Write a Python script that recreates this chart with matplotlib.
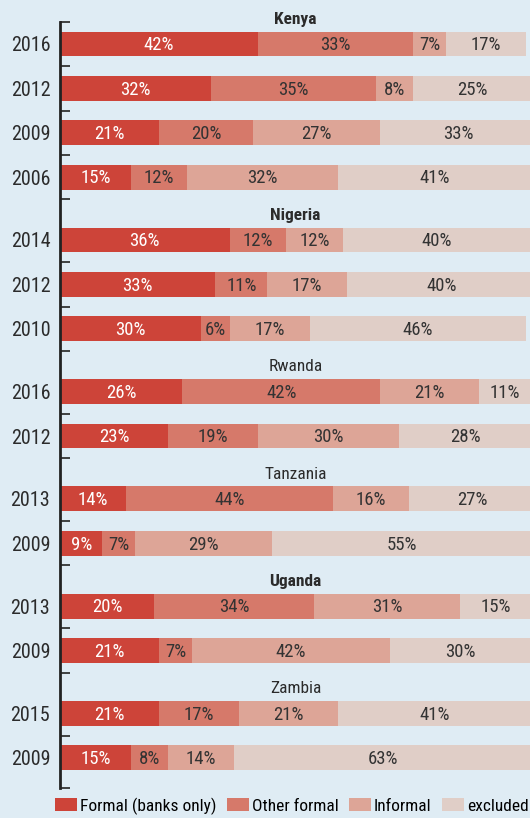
import numpy as np
import matplotlib
matplotlib.use("Agg")
import matplotlib.pyplot as plt
from matplotlib.patches import Patch
from matplotlib import font_manager

# pick a condensed sans if one is around, else plain Roboto
available = {f.name for f in font_manager.fontManager.ttflist}
candidates = ["Roboto Condensed", "Liberation Sans Narrow",
              "Fira Sans Condensed", "Roboto"]
font = next((c for c in candidates if c in available), "DejaVu Sans")
plt.rcParams['font.family'] = [font, 'DejaVu Sans']

countries = ["Kenya", "Nigeria", "Rwanda", "Tanzania", "Uganda", "Zambia"]
bold_titles = ["Kenya", "Nigeria", "Uganda"]
years = [
    ["2016", "2012", "2009", "2006"],
    ["2014", "2012", "2010"],
    ["2016", "2012"],
    ["2013", "2009"],
    ["2013", "2009"],
    ["2015", "2009"],
]

formal = [42, 32, 21, 15, 36, 33, 30, 26, 23, 14, 9, 20, 21, 21, 15]
other_formal = [33, 35, 20, 12, 12, 11, 6, 42, 19, 44, 7, 34, 7, 17, 8]
informal = [7, 8, 27, 32, 12, 17, 17, 21, 30, 16, 29, 31, 42, 21, 14]
excluded = [17, 25, 33, 41, 40, 40, 46, 11, 28, 27, 55, 15, 30, 41, 63]

series = [formal, other_formal, informal, excluded]
labels = ["Formal (banks only)", "Other formal", "Informal", "excluded"]
colors = ["#CD4439", "#D6796A", "#DDA597", "#E0CEC7"]
bg = "#DFECF4"

# y positions: one unit per row, bigger gap between countries (room for title)
group_gap = 1.416
positions = []
title_pos = []
y = 0.0
for gi, yrs in enumerate(years):
    if gi > 0:
        y += group_gap - 1
    title_pos.append(y - 0.56)
    for _ in yrs:
        positions.append(y)
        y += 1
positions = np.array(positions)
all_years = [yr for yrs in years for yr in yrs]

fig = plt.figure(figsize=(5.3, 8.18), dpi=100)
fig.patch.set_facecolor(bg)
ax = fig.add_axes([60 / 530, 30 / 818, 471 / 530, 788 / 818])
ax.set_facecolor(bg)

left = np.zeros(len(positions))
for si, (vals, col) in enumerate(zip(series, colors)):
    vals = np.array(vals)
    ax.barh(positions, vals, left=left, height=0.56, color=col, linewidth=0)
    for p, l, v in zip(positions, left, vals):
        ax.text(l + v / 2, p + 0.03, f"{v}%", ha="center", va="center",
                fontsize=13.5, color="white" if si == 0 else "#333333")
    left = left + vals

for name, tp in zip(countries, title_pos):
    ax.text(50, tp, name, ha="center", va="center", fontsize=12.5,
            color="#2b2b2b",
            fontweight="bold" if name in bold_titles else "normal")

bottom = positions[-1] + 0.68
ax.set_xlim(0, 100)
ax.set_ylim(bottom, -0.99)

ticks = [-0.5] + [p + 0.5 for p in positions[:-1]] + [bottom]
ax.set_yticks(ticks)
ax.set_yticklabels([""] * len(ticks))
ax.tick_params(axis="y", which="major", direction="in", length=7,
               width=1.3, color="#333333")
ax.set_yticks(positions, minor=True)
ax.set_yticklabels(all_years, minor=True, fontsize=14.5, color="#2b2b2b")
ax.tick_params(axis="y", which="minor", length=0, pad=7)
ax.set_xticks([])

for s in ["top", "right", "bottom"]:
    ax.spines[s].set_visible(False)
ax.spines["left"].set_bounds(-0.5, bottom)
ax.spines["left"].set_linewidth(2)
ax.spines["left"].set_color("#222222")

handles = [Patch(facecolor=c, label=l) for c, l in zip(colors, labels)]
fig.legend(handles=handles, loc="center left",
           bbox_to_anchor=(55 / 530, 1 - 806 / 818),
           ncol=4, frameon=False, fontsize=12.5, handlelength=1.27,
           handleheight=0.8, handletextpad=0.17, columnspacing=0.6,
           borderpad=0, borderaxespad=0)

fig.savefig("out.png", dpi=100, facecolor=bg)
